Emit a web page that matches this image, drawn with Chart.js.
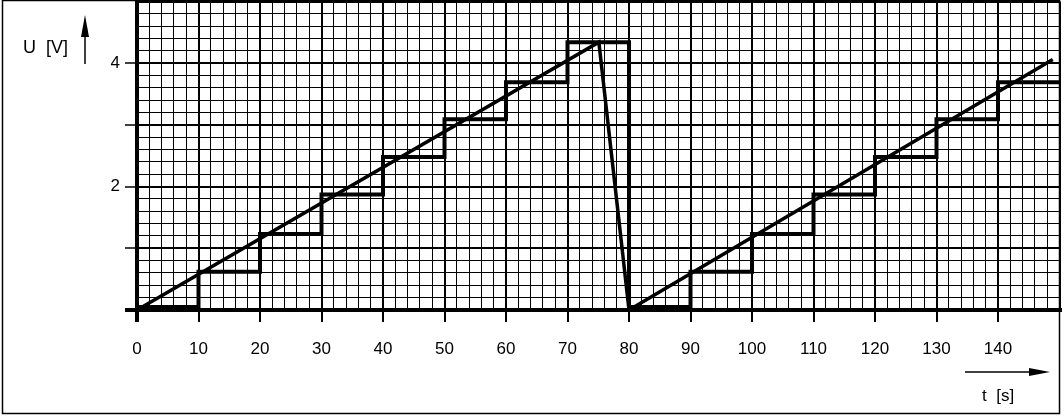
<!DOCTYPE html>
<html>
<head>
<meta charset="utf-8">
<script src="https://cdn.jsdelivr.net/npm/chart.js@4/dist/chart.umd.min.js"></script>
<style>
  body { margin: 0; background: #fff; }
  #wrap { width: 1064px; height: 417px; position: relative; }
</style>
</head>
<body>
<div id="wrap"><canvas id="chart"></canvas></div>
<script>
'use strict';

// sample & hold output (value held from each time until the next one)
var stepTimes = [0, 10, 20, 30, 40, 50, 60, 70, 80, 90, 100, 110, 120, 130, 140, 150];
var stepVolts = [0.05, 0.62, 1.23, 1.87, 2.48, 3.09, 3.69, 4.34, 0.05, 0.62, 1.23, 1.87, 2.48, 3.09, 3.69, 3.69];

// sawtooth input
var rampTimes = [0, 75.1, 80, 148.9];
var rampVolts = [0, 4.34, 0, 4.06];

var xLabels = [0, 10, 20, 30, 40, 50, 60, 70, 80, 90, 100, 110, 120, 130, 140];
var yLabels = [2, 4];

function toPoints(xs, ys) {
  return xs.map(function (x, i) {
    return { x: x, y: ys[i] };
  });
}

function isWhole(v, step) {
  var r = v / step;
  return Math.abs(r - Math.round(r)) < 1e-6;
}

function hasValue(list, v) {
  return list.some(function (n) { return Math.abs(n - v) < 1e-6; });
}

var frame = {
  id: 'frame',
  afterDraw: function (chart) {
    var ctx = chart.ctx;
    ctx.save();
    ctx.strokeStyle = '#000';
    ctx.fillStyle = '#000';
    ctx.lineWidth = 1.5;
    ctx.strokeRect(2.5, 0.5, 1057, 413);

    // axis names
    ctx.font = '18px "Liberation Sans", Arial, sans-serif';
    ctx.textBaseline = 'alphabetic';
    ctx.textAlign = 'left';
    ctx.fillText('U  [V]', 23, 53);
    ctx.font = '17px "Liberation Sans", Arial, sans-serif';
    ctx.fillText('t  [s]', 982, 401);

    // up arrow
    ctx.lineWidth = 1.5;
    ctx.beginPath();
    ctx.moveTo(85, 64);
    ctx.lineTo(85, 30);
    ctx.stroke();
    ctx.beginPath();
    ctx.moveTo(85, 15);
    ctx.lineTo(89, 37);
    ctx.lineTo(81, 37);
    ctx.closePath();
    ctx.fill();

    // right arrow
    ctx.beginPath();
    ctx.moveTo(965, 372);
    ctx.lineTo(1035, 372);
    ctx.stroke();
    ctx.beginPath();
    ctx.moveTo(1050, 372);
    ctx.lineTo(1029, 368);
    ctx.lineTo(1029, 376);
    ctx.closePath();
    ctx.fill();
    ctx.restore();
  }
};

var chartEl = document.getElementById('chart');

new Chart(chartEl, {
  type: 'line',
  data: {
    datasets: [{
      data: toPoints(stepTimes, stepVolts),
      stepped: 'before',
      borderColor: '#000',
      borderWidth: 4,
      pointRadius: 0,
      fill: false
    }, {
      data: toPoints(rampTimes, rampVolts),
      borderColor: '#000',
      borderWidth: 3.5,
      pointRadius: 0,
      tension: 0,
      fill: false
    }]
  },
  plugins: [frame],
  options: {
    responsive: true,
    maintainAspectRatio: false,
    animation: false,
    layout: { padding: { left: 0, right: 4.5, top: 1.5, bottom: 0 } },
    plugins: {
      legend: { display: false },
      tooltip: { enabled: false }
    },
    scales: {
      x: {
        type: 'linear',
        min: 0,
        max: 150,
        afterFit: function (scale) {
          scale.height = 107;
          scale.paddingLeft = 0;
          scale.paddingRight = 0;
        },
        border: { display: true, color: '#000', width: 4 },
        grid: {
          color: '#000',
          tickLength: 12,
          lineWidth: function (ctx) {
            var v = ctx.tick.value;
            if (v === 0) return 4;
            return isWhole(v, 10) ? 2 : 1;
          },
          tickWidth: function (ctx) {
            var v = ctx.tick.value;
            if (v === 0) return 4;
            return (isWhole(v, 10) && v < 150) ? 2 : 0;
          },
          tickColor: '#000'
        },
        ticks: {
          stepSize: 2,
          autoSkip: false,
          maxRotation: 0,
          minRotation: 0,
          padding: 17,
          color: '#000',
          font: { family: '"Liberation Sans", Arial, sans-serif', size: 17 },
          callback: function (v) {
            return hasValue(xLabels, v) ? String(Math.round(v)) : '';
          }
        }
      },
      y: {
        type: 'linear',
        min: 0,
        max: 5,
        afterFit: function (scale) {
          scale.width = 137;
          scale.paddingTop = 0;
          scale.paddingBottom = 0;
        },
        border: { display: true, color: '#000', width: 4 },
        grid: {
          color: '#000',
          tickLength: 12,
          lineWidth: function (ctx) {
            var v = ctx.tick.value;
            if (Math.abs(v) < 1e-6) return 4;
            return isWhole(v, 1) ? 2 : 1;
          },
          tickWidth: function (ctx) {
            var v = ctx.tick.value;
            if (Math.abs(v) < 1e-6) return 4;
            return (isWhole(v, 1) && v < 4.99) ? 1.5 : 0;
          },
          tickColor: '#000'
        },
        ticks: {
          stepSize: 0.2,
          autoSkip: false,
          padding: 5,
          color: '#000',
          font: { family: '"Liberation Sans", Arial, sans-serif', size: 17 },
          callback: function (v) {
            return hasValue(yLabels, v) ? String(Math.round(v)) : '';
          }
        }
      }
    }
  }
});
</script>
</body>
</html>
